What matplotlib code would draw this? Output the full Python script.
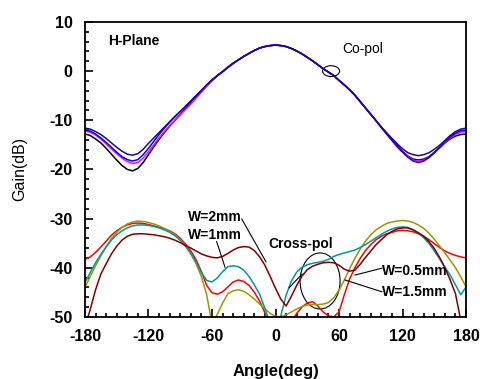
import numpy as np
import matplotlib
matplotlib.use("Agg")
import matplotlib.pyplot as plt
from matplotlib.patches import Ellipse
from matplotlib.ticker import MultipleLocator

plt.rcParams["font.family"] = ["Liberation Sans", "DejaVu Sans"]
plt.rcParams["axes.unicode_minus"] = False

angle = np.arange(-180, 181, 5)

# co-pol, H-plane
co_black = [-12.8, -13.1, -13.8, -14.6, -15.7, -16.9, -18.1, -19.2, -20.0, -20.3,
            -19.8, -18.6, -17.0, -15.4, -13.9, -12.5, -11.2, -10.0, -8.8, -7.6,
            -6.4, -5.2, -4.0, -2.9, -1.9, -0.9, -0.1, 0.8, 1.6, 2.3,
            3.0, 3.6, 4.2, 4.7, 5.0, 5.2, 5.3, 5.2, 5.0, 4.6,
            4.1, 3.5, 2.8, 2.1, 1.3, 0.5, -0.2, -0.9, -1.9, -2.8,
            -3.8, -4.9, -6.2, -7.5, -8.8, -10.1, -11.4, -12.6, -13.9, -15.1,
            -16.3, -17.3, -17.9, -18.1, -17.9, -17.4, -16.5, -15.6, -14.6, -13.8,
            -13.2, -12.9, -12.8]
co_blue = [-12.0, -12.2, -12.8, -13.6, -14.5, -15.5, -16.5, -17.4, -18.0, -18.3,
           -18.0, -17.0, -15.7, -14.3, -12.9, -11.6, -10.4, -9.3, -8.2, -7.2,
           -6.1, -5.0, -3.9, -2.8, -1.8, -0.9, -0.1, 0.8, 1.6, 2.3,
           3.0, 3.6, 4.2, 4.7, 5.0, 5.2, 5.3, 5.2, 5.0, 4.6,
           4.1, 3.5, 2.8, 2.1, 1.3, 0.5, -0.2, -0.9, -1.9, -2.8,
           -3.8, -4.9, -6.2, -7.5, -8.8, -10.1, -11.5, -12.8, -14.1, -15.4,
           -16.5, -17.5, -18.3, -18.6, -18.3, -17.6, -16.6, -15.5, -14.4, -13.4,
           -12.6, -12.1, -12.0]
co_magenta = [-12.2, -12.4, -13.0, -13.8, -14.8, -15.8, -16.8, -17.7, -18.4, -18.8,
              -18.6, -17.7, -16.4, -15.0, -13.6, -12.3, -11.1, -10.0, -8.9, -7.8,
              -6.7, -5.5, -4.3, -3.1, -2.0, -1.0, -0.2, 0.7, 1.5, 2.3,
              3.0, 3.6, 4.2, 4.7, 5.0, 5.2, 5.3, 5.2, 5.0, 4.6,
              4.1, 3.5, 2.8, 2.1, 1.3, 0.5, -0.2, -0.9, -1.9, -2.8,
              -3.8, -4.9, -6.2, -7.5, -8.8, -10.1, -11.5, -12.8, -14.1, -15.3,
              -16.4, -17.4, -18.1, -18.3, -18.1, -17.5, -16.6, -15.6, -14.6, -13.6,
              -12.9, -12.4, -12.3]
co_navy = [-11.6, -11.8, -12.3, -12.9, -13.7, -14.6, -15.5, -16.3, -16.9, -17.1,
           -16.8, -15.9, -14.7, -13.6, -12.5, -11.4, -10.3, -9.2, -8.2, -7.2,
           -6.1, -5.0, -3.9, -2.8, -1.8, -0.9, -0.1, 0.8, 1.6, 2.3,
           3.0, 3.6, 4.2, 4.7, 5.0, 5.2, 5.3, 5.2, 5.0, 4.6,
           4.1, 3.5, 2.8, 2.1, 1.3, 0.5, -0.2, -0.9, -1.9, -2.8,
           -3.8, -4.9, -6.2, -7.5, -8.8, -10.1, -11.4, -12.6, -13.7, -14.8,
           -15.8, -16.6, -17.0, -17.2, -17.0, -16.6, -15.9, -15.1, -14.1, -13.1,
           -12.3, -11.8, -11.6]

# cross-pol, H-plane
x_maroon = [-52.0, -48.5, -44.5, -41.3, -39.2, -37.2, -35.6, -34.4, -33.6, -33.2,
            -33.1, -33.1, -33.2, -33.3, -33.5, -33.7, -34.0, -34.4, -34.9, -35.5,
            -36.0, -36.6, -37.2, -37.6, -37.9, -38.0, -37.7, -37.1, -36.4, -35.9,
            -35.7, -35.8, -36.5, -37.8, -39.5, -41.8, -44.2, -46.4, -47.8, -45.8,
            -43.6, -41.7, -40.4, -39.7, -39.3, -39.0, -38.9, -39.0, -39.5, -40.3,
            -40.7, -40.5, -39.3, -37.9, -36.6, -35.3, -34.3, -33.3, -32.6, -32.1,
            -31.9, -31.9, -32.3, -32.9, -33.6, -34.7, -36.1, -37.9, -40.0, -42.5,
            -45.3, -50.8, -55.0]
x_red = [-38.3, -37.8, -36.9, -35.8, -34.6, -33.4, -32.5, -31.8, -31.3, -31.0,
         -30.9, -31.0, -31.2, -31.5, -31.8, -32.1, -32.5, -33.1, -34.0, -35.2,
         -36.6, -38.4, -40.8, -43.6, -45.1, -45.4, -44.9, -43.9, -42.9, -42.5,
         -42.8, -43.6, -45.0, -46.8, -49.2, -52.0, -55.0, -56.0, -54.0, -51.0,
         -49.3, -48.0, -47.2, -46.9, -47.8, -49.0, -49.8, -50.0, -49.0, -45.5,
         -42.3, -40.0, -38.1, -36.5, -35.3, -34.3, -33.6, -33.1, -32.8, -32.5,
         -32.4, -32.5, -32.7, -33.1, -33.6, -34.3, -35.1, -35.9, -36.6, -37.1,
         -37.5, -37.8, -38.0]
x_teal = [-43.0, -41.0, -39.0, -37.3, -35.8, -34.4, -33.3, -32.5, -31.9, -31.5,
          -31.3, -31.3, -31.4, -31.6, -31.9, -32.3, -32.8, -33.5, -34.4, -35.6,
          -37.1, -38.9, -41.0, -42.6, -42.9, -42.1, -40.8, -39.8, -39.6, -39.8,
          -40.5, -41.8, -43.5, -45.4, -48.3, -51.5, -54.0, -49.8, -45.6, -42.7,
          -40.9, -39.9, -39.4, -39.1, -38.9, -38.7, -38.3, -37.7, -37.3, -37.0,
          -36.7, -36.4, -35.9, -35.3, -34.6, -33.9, -33.2, -32.6, -32.1, -31.8,
          -31.7, -31.8, -32.3, -33.0, -33.9, -35.1, -36.6, -38.2, -39.9, -41.5,
          -43.5, -45.5, -43.9]
x_olive = [-44.0, -41.8, -39.6, -37.6, -35.7, -34.1, -32.8, -31.8, -31.1, -30.7,
           -30.5, -30.6, -30.8, -31.1, -31.5, -32.0, -32.6, -33.3, -34.3, -35.6,
           -37.2, -39.2, -41.8, -45.5, -51.5, -49.5, -47.2, -45.3, -44.7, -44.5,
           -44.8, -45.5, -46.4, -47.4, -48.4, -49.3, -49.9, -50.0, -49.6, -49.0,
           -48.4, -47.9, -47.6, -47.5, -47.5, -47.4, -47.1, -46.1, -44.6, -42.5,
           -40.2, -38.1, -36.2, -34.6, -33.3, -32.3, -31.6, -31.0, -30.7, -30.5,
           -30.4, -30.5, -30.8, -31.3, -32.0, -33.0, -34.2, -35.6, -37.0, -38.5,
           -40.0, -41.9, -43.9]

fig = plt.figure(figsize=(4.8, 3.79), dpi=100)
ax = fig.add_axes([0.177, 0.164, 0.794, 0.778])

lw = 1.1
ax.plot(angle, co_black, color="black", lw=lw)
ax.plot(angle, co_magenta, color="#ff00ff", lw=lw)
ax.plot(angle, co_blue, color="#0000ff", lw=lw)
ax.plot(angle, co_navy, color="#1a0a8c", lw=lw)

ax.plot(angle, x_red, color="#ff0000", lw=lw)
ax.plot(angle, x_olive, color="#999900", lw=lw)
ax.plot(angle, x_teal, color="#00999a", lw=lw)
ax.plot(angle, x_maroon, color="#800000", lw=lw)

ax.set_xlim(-180, 180)
ax.set_ylim(-50, 10)
ax.xaxis.set_major_locator(MultipleLocator(60))
ax.xaxis.set_minor_locator(MultipleLocator(10))
ax.yaxis.set_major_locator(MultipleLocator(10))
ax.yaxis.set_minor_locator(MultipleLocator(2))
ax.tick_params(which="both", direction="in", top=False, right=False, width=1.2)
ax.tick_params(which="major", length=6, pad=9, labelsize=11.5)
ax.tick_params(which="minor", length=3)
for lab in ax.get_xticklabels() + ax.get_yticklabels():
    lab.set_fontweight("bold")
for sp in ax.spines.values():
    sp.set_linewidth(1.3)

ax.set_xlabel("Angle(deg)", fontsize=12, fontweight="bold", labelpad=14)
ax.set_ylabel("Gain(dB)", fontsize=11.5, labelpad=16)

# annotations
ax.text(-158.3, 6.2, "H-Plane", fontsize=10, fontweight="bold", va="center")
ax.text(63.5, 4.6, "Co-pol", fontsize=10, va="center")
ax.add_patch(Ellipse((52.5, 0.0), 16, 2.2, fill=False, lw=0.8, color="black"))

ax.text(-7.1, -35.2, "Cross-pol", fontsize=10, fontweight="bold", va="center")
ax.add_patch(Ellipse((42.1, -42.7), 37.8, 11.4, fill=False, lw=0.8, color="black"))
ax.plot([12.8, 25.0], [-44.1, -41.3], color="black", lw=0.8)

ax.text(-82.7, -29.7, "W=2mm", fontsize=10, fontweight="bold", va="center")
ax.plot([-31.9, -9.0], [-30.1, -38.8], color="black", lw=0.8)
ax.text(-82.7, -33.4, "W=1mm", fontsize=10, fontweight="bold", va="center")
ax.plot([-55.6, -47.7], [-34.7, -39.9], color="black", lw=0.8)
ax.text(100.4, -40.6, "W=0.5mm", fontsize=10, fontweight="bold", va="center")
ax.plot([100.4, 75.1], [-40.1, -41.5], color="black", lw=0.8)
ax.text(100.4, -44.9, "W=1.5mm", fontsize=10, fontweight="bold", va="center")
ax.plot([100.4, 65.7], [-44.9, -42.5], color="black", lw=0.8)

fig.savefig("out.png", dpi=100)
